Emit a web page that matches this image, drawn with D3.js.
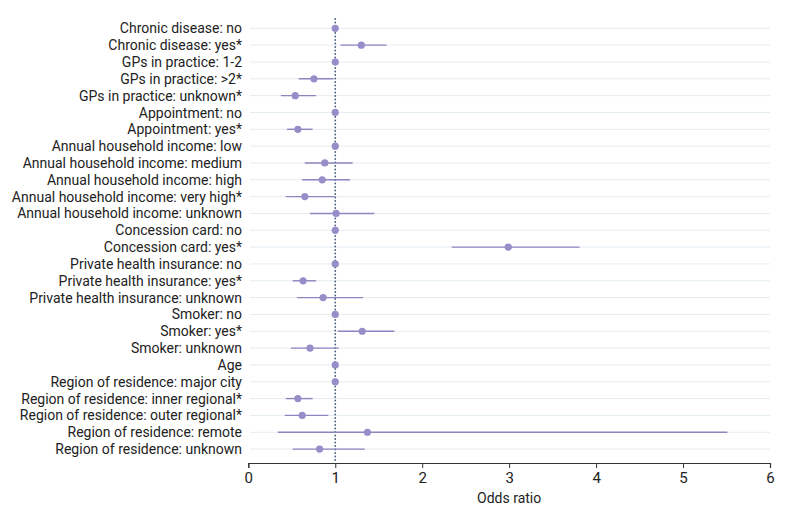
<!DOCTYPE html>
<html>
<head>
<meta charset="utf-8">
<script src="https://cdn.jsdelivr.net/npm/d3@7"></script>
<style>
  body { margin: 0; background: #fff; }
  text { font-family: Roboto, "Open Sans", sans-serif; fill: #222; }
</style>
</head>
<body>
<script>
const labels = [
  "Chronic disease: no", "Chronic disease: yes*",
  "GPs in practice: 1-2", "GPs in practice: >2*", "GPs in practice: unknown*",
  "Appointment: no", "Appointment: yes*",
  "Annual household income: low", "Annual household income: medium",
  "Annual household income: high", "Annual household income: very high*",
  "Annual household income: unknown",
  "Concession card: no", "Concession card: yes*",
  "Private health insurance: no", "Private health insurance: yes*",
  "Private health insurance: unknown",
  "Smoker: no", "Smoker: yes*", "Smoker: unknown",
  "Age",
  "Region of residence: major city", "Region of residence: inner regional*",
  "Region of residence: outer regional*", "Region of residence: remote",
  "Region of residence: unknown"
];
const oddsRatio = [1, 1.30, 1, 0.755, 0.54, 1, 0.57, 1, 0.88, 0.85, 0.65, 1.01, 1, 2.99,
  1, 0.63, 0.86, 1, 1.31, 0.71, 1, 1, 0.57, 0.62, 1.37, 0.82];
const ciLow = [1, 1.06, 1, 0.58, 0.375, 1, 0.445, 1, 0.65, 0.62, 0.43, 0.71, 1, 2.34,
  1, 0.51, 0.56, 1, 1.03, 0.49, 1, 1, 0.43, 0.42, 0.34, 0.51];
const ciHigh = [1, 1.59, 1, 0.98, 0.78, 1, 0.74, 1, 1.20, 1.17, 0.99, 1.45, 1, 3.81,
  1, 0.78, 1.32, 1, 1.68, 1.04, 1, 1, 0.74, 0.92, 5.51, 1.34];
const xTicks = [0, 1, 2, 3, 4, 5, 6];

const data = labels.map((l, i) => ({ label: l, or: oddsRatio[i], lo: ciLow[i], hi: ciHigh[i] }));

const width = 800, height = 510;
const svg = d3.select("body").append("svg")
  .attr("width", width).attr("height", height);

const x = d3.scaleLinear().domain([0, 6]).range([248.3, 770]);
const y = d3.scalePoint().domain(labels).range([19.9, 457.5]).padding(0.5);
const axisY = 463;

// gridlines
svg.append("g").selectAll("line")
  .data(labels).enter().append("line")
  .attr("x1", 250).attr("x2", 770)
  .attr("y1", d => y(d)).attr("y2", d => y(d))
  .attr("stroke", "#e4edf2").attr("stroke-width", 1);

// reference line at 1
svg.append("line")
  .attr("x1", x(1)).attr("x2", x(1))
  .attr("y1", 19).attr("y2", axisY)
  .attr("stroke", "#4e6080").attr("stroke-width", 1.8)
  .attr("stroke-linecap", "round")
  .attr("stroke-dasharray", "0.1,3.4");

// row labels
svg.append("g").selectAll("text")
  .data(labels).enter().append("text")
  .attr("x", 242).attr("y", d => y(d))
  .attr("dy", "0.36em")
  .attr("text-anchor", "end")
  .style("font-size", "14px")
  .text(d => d);

// CIs
svg.append("g").selectAll("line")
  .data(data).enter().append("line")
  .attr("x1", d => x(d.lo)).attr("x2", d => x(d.hi))
  .attr("y1", d => y(d.label)).attr("y2", d => y(d.label))
  .attr("stroke", "#8c86c0").attr("stroke-width", 1.4);

// points
svg.append("g").selectAll("circle")
  .data(data).enter().append("circle")
  .attr("cx", d => x(d.or)).attr("cy", d => y(d.label))
  .attr("r", 3.6)
  .attr("fill", "#958ec8");

// x axis
const xAxis = svg.append("g")
  .attr("transform", `translate(0,${axisY})`)
  .call(d3.axisBottom(x).tickValues(xTicks).tickSize(5).tickPadding(4).tickFormat(d3.format("d")));
xAxis.select(".domain").attr("stroke", "#333").attr("stroke-width", 1.2);
xAxis.selectAll(".tick line").attr("stroke", "#333");
xAxis.selectAll(".tick text")
  .style("font-size", "15px")
  .style("font-family", "Roboto, sans-serif")
  .attr("fill", "#222");

svg.append("text")
  .attr("x", x(3)).attr("y", 503)
  .attr("text-anchor", "middle")
  .style("font-size", "14px")
  .text("Odds ratio");
</script>
</body>
</html>
